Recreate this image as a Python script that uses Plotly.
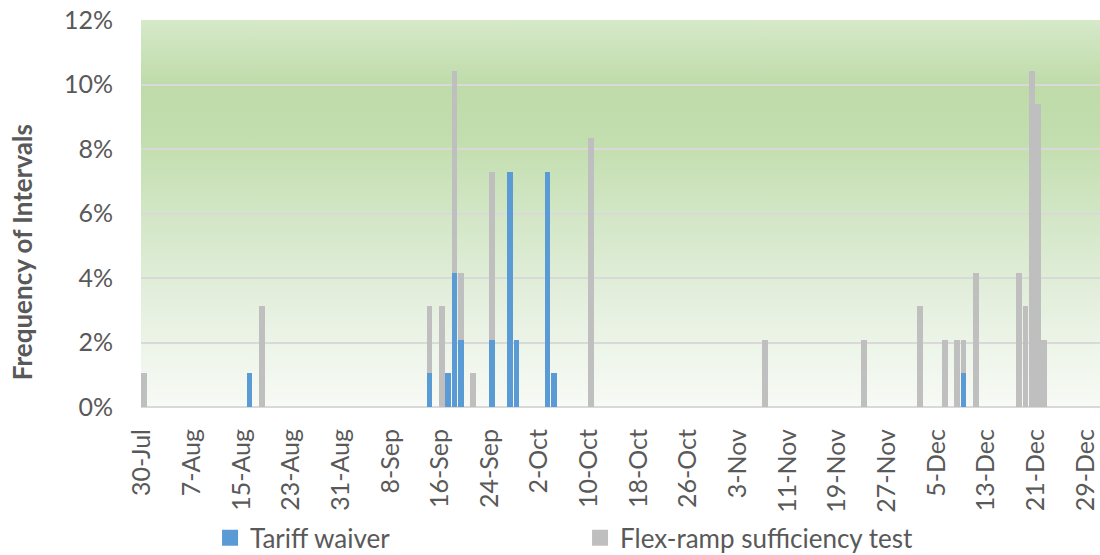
import base64

import plotly.graph_objects as go

# days with at least one interval flagged (frequency in % of intervals)
dates = [
    "2017-07-30", "2017-08-16", "2017-08-18", "2017-09-14", "2017-09-16",
    "2017-09-17", "2017-09-18", "2017-09-19", "2017-09-21", "2017-09-24",
    "2017-09-27", "2017-09-28", "2017-10-03", "2017-10-04", "2017-10-10",
    "2017-11-07", "2017-11-23", "2017-12-02", "2017-12-06", "2017-12-08",
    "2017-12-09", "2017-12-11", "2017-12-18", "2017-12-19", "2017-12-20",
    "2017-12-21", "2017-12-22",
]
tariff_waiver = [
    0, 1.04, 0, 1.04, 0,
    1.04, 4.17, 2.08, 0, 2.08,
    7.29, 2.08, 7.29, 1.04, 0,
    0, 0, 0, 0, 0,
    1.04, 0, 0, 0, 0,
    0, 0,
]
flex_ramp = [
    1.04, 0, 3.13, 2.08, 3.13,
    0, 6.25, 2.08, 1.04, 5.21,
    0, 0, 0, 0, 8.33,
    2.08, 2.08, 3.13, 2.08, 2.08,
    1.04, 4.17, 4.17, 3.13, 10.42,
    9.38, 2.08,
]
series_names = ["Tariff waiver", "Flex-ramp sufficiency test"]

BLUE = "#5b9bd5"
GREY = "#bfbfbf"
TEXT = "#595959"
GRID = "#d9d9d9"
FONT = "Lato, 'Open Sans', sans-serif"

# green gradient fill of the plot area, as a stretched svg image
stops = [(0, "#d6e9ca"), (17, "#bedba9"), (32, "#c3deaf"), (50, "#d2e6c5"),
         (70, "#e2eedb"), (86, "#eef5ea"), (100, "#f7faf5")]
svg = (
    '<svg xmlns="http://www.w3.org/2000/svg" width="100" height="100" '
    'preserveAspectRatio="none"><defs><linearGradient id="g" x1="0" y1="0" '
    'x2="0" y2="1">'
    + "".join(f'<stop offset="{o}%" stop-color="{c}"/>' for o, c in stops)
    + '</linearGradient></defs><rect width="100" height="100" fill="url(#g)"/></svg>'
)
bg_src = "data:image/svg+xml;base64," + base64.b64encode(svg.encode()).decode()

fig = go.Figure()
for name, vals, col in [(series_names[0], tariff_waiver, BLUE),
                        (series_names[1], flex_ramp, GREY)]:
    fig.add_trace(go.Bar(x=dates, y=vals, name=name, marker_color=col,
                         marker_line_width=0, showlegend=False))
    # legend-only stand-in so the key square matches the original size
    fig.add_trace(go.Scatter(x=[None], y=[None], mode="markers", name=name,
                             marker=dict(symbol="square", size=16, color=col)))

fig.update_layout(
    width=1100,
    height=555,
    margin=dict(l=141, r=0, t=20, b=148, autoexpand=False),
    barmode="stack",
    bargap=0.08,
    paper_bgcolor="white",
    plot_bgcolor="rgba(0,0,0,0)",
    font=dict(family=FONT, color=TEXT, size=25),
    images=[dict(source=bg_src, xref="paper", yref="paper", x=0, y=1,
                 sizex=1, sizey=1, xanchor="left", yanchor="top",
                 sizing="stretch", layer="below")],
    legend=dict(orientation="h", x=0.072, y=-0.338, xanchor="left",
                yanchor="middle", entrywidth=325, entrywidthmode="pixels",
                traceorder="normal",
                font=dict(size=26, color=TEXT), itemwidth=30,
                bgcolor="rgba(0,0,0,0)"),
    annotations=[dict(text="<b>Frequency of Intervals</b>", xref="paper",
                      yref="paper", x=0, y=0.4, xshift=-119, xanchor="center",
                      yanchor="middle", textangle=-90,
                      showarrow=False, font=dict(size=26, color=TEXT))],
)
fig.update_xaxes(
    type="date",
    range=["2017-07-29 12:00", "2017-12-31 00:00"],
    tick0="2017-07-30",
    dtick=8 * 86400000,
    tickformat="%-d-%b",
    tickangle=-90,
    ticklabelstandoff=16,
    ticklabelshift=-2,
    ticklabeloverflow="allow",
    showgrid=False,
    showline=False,
    ticks="",
)
fig.update_yaxes(
    range=[0, 12],
    dtick=2,
    ticksuffix="%",
    showgrid=True,
    gridcolor=GRID,
    gridwidth=1.5,
    zeroline=True,
    zerolinecolor=GRID,
    zerolinewidth=1.5,
    ticks="",
    ticklabelstandoff=27,
    ticklabeloverflow="allow",
)

# drop the browser's default 8px body margin so the figure fills the window
fig.write_html(
    "out.html",
    config={"displayModeBar": False},
    post_script="document.body.style.margin = '0';",
)
